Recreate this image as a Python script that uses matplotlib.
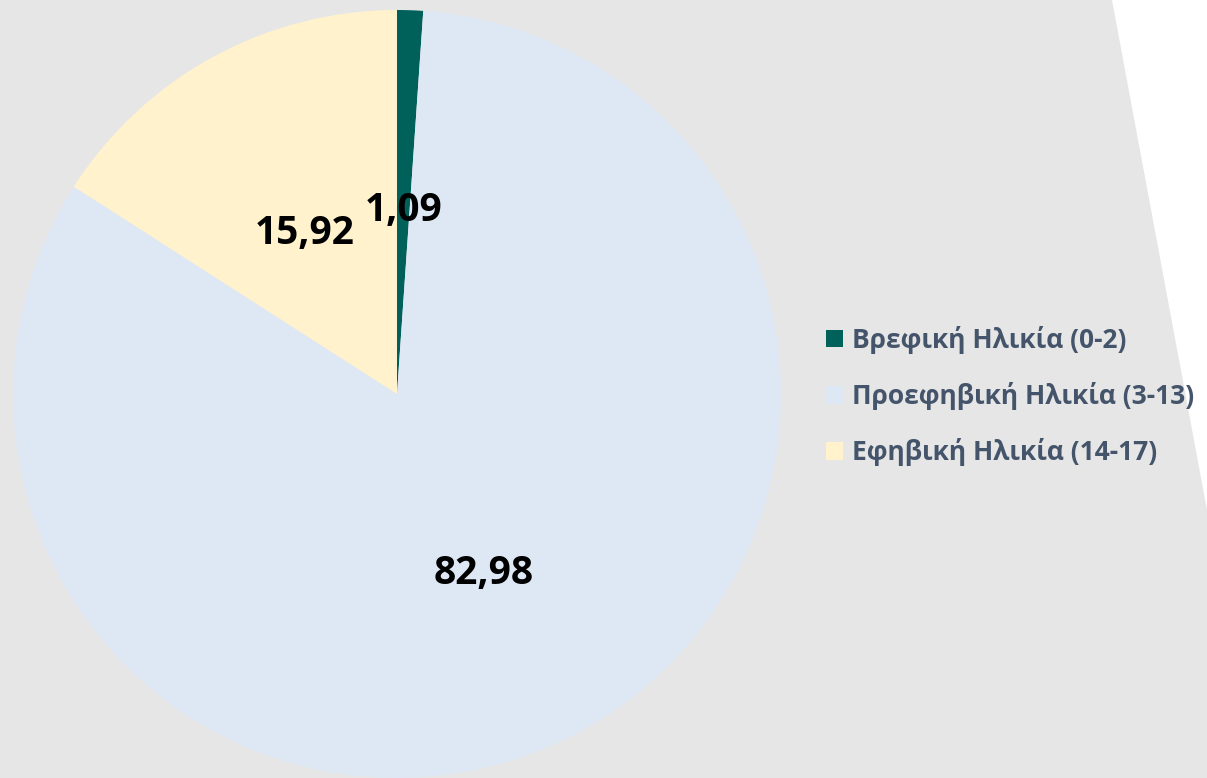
import numpy as np
import matplotlib
matplotlib.use("Agg")
import matplotlib.pyplot as plt
from matplotlib.patches import Polygon
from matplotlib import font_manager

# pick a sans family that actually ships a bold face
bold_family = "DejaVu Sans"
for fam in ["Noto Sans", "Open Sans", "Lato", "Roboto", "Liberation Sans"]:
    if any(f.name == fam and f.weight in (700, "bold") for f in font_manager.fontManager.ttflist):
        bold_family = fam
        break
plt.rcParams['font.family'] = [bold_family, 'DejaVu Sans']

categories = ["Βρεφική Ηλικία (0-2)", "Προεφηβική Ηλικία (3-13)", "Εφηβική Ηλικία (14-17)"]
values = [1.09, 82.98, 15.92]
value_labels = ["1,09", "82,98", "15,92"]
colors = ["#00605A", "#DEE8F4", "#FFF2CC"]

W, H = 1207, 778
fig = plt.figure(figsize=(W / 100, H / 100), dpi=100)
fig.patch.set_facecolor("white")

# gray backdrop with slanted right edge
pts = [(0, 0), (1112, 0), (1207, 510), (1207, 778), (0, 778)]
bg = Polygon([(x / W, 1 - y / H) for x, y in pts], closed=True,
             transform=fig.transFigure, facecolor="#E7E6E6", edgecolor="none", zorder=-5)
fig.patches.append(bg)

ax = fig.add_axes([13 / W, 0, 768 / W, 768 / H])
ax.set_zorder(2)
ax.set_facecolor("none")
wedges, _ = ax.pie(values, colors=colors, startangle=90, counterclock=False,
                   wedgeprops=dict(linewidth=0))
ax.set_xlim(-1, 1)
ax.set_ylim(-1, 1)
ax.axis("off")

for w, lab in zip(wedges, value_labels):
    ang = np.deg2rad((w.theta1 + w.theta2) / 2)
    ax.annotate(lab, (0.5 * np.cos(ang), 0.5 * np.sin(ang)), xytext=(0, -6),
                textcoords="offset points", ha="center", va="center",
                fontsize=28, fontweight="bold", color="black")

leg = fig.legend(wedges, categories, loc="center left", bbox_to_anchor=(826 / W, 1 - 396 / H),
                 frameon=False, borderpad=0, borderaxespad=0,
                 handlelength=0.65, handleheight=0.65, handletextpad=0.35, labelspacing=1.07,
                 prop=dict(family=[bold_family, 'DejaVu Sans'], size=19, weight="bold"),
                 labelcolor="#44546A")
leg.set_zorder(3)

fig.savefig("out.png", dpi=100)
